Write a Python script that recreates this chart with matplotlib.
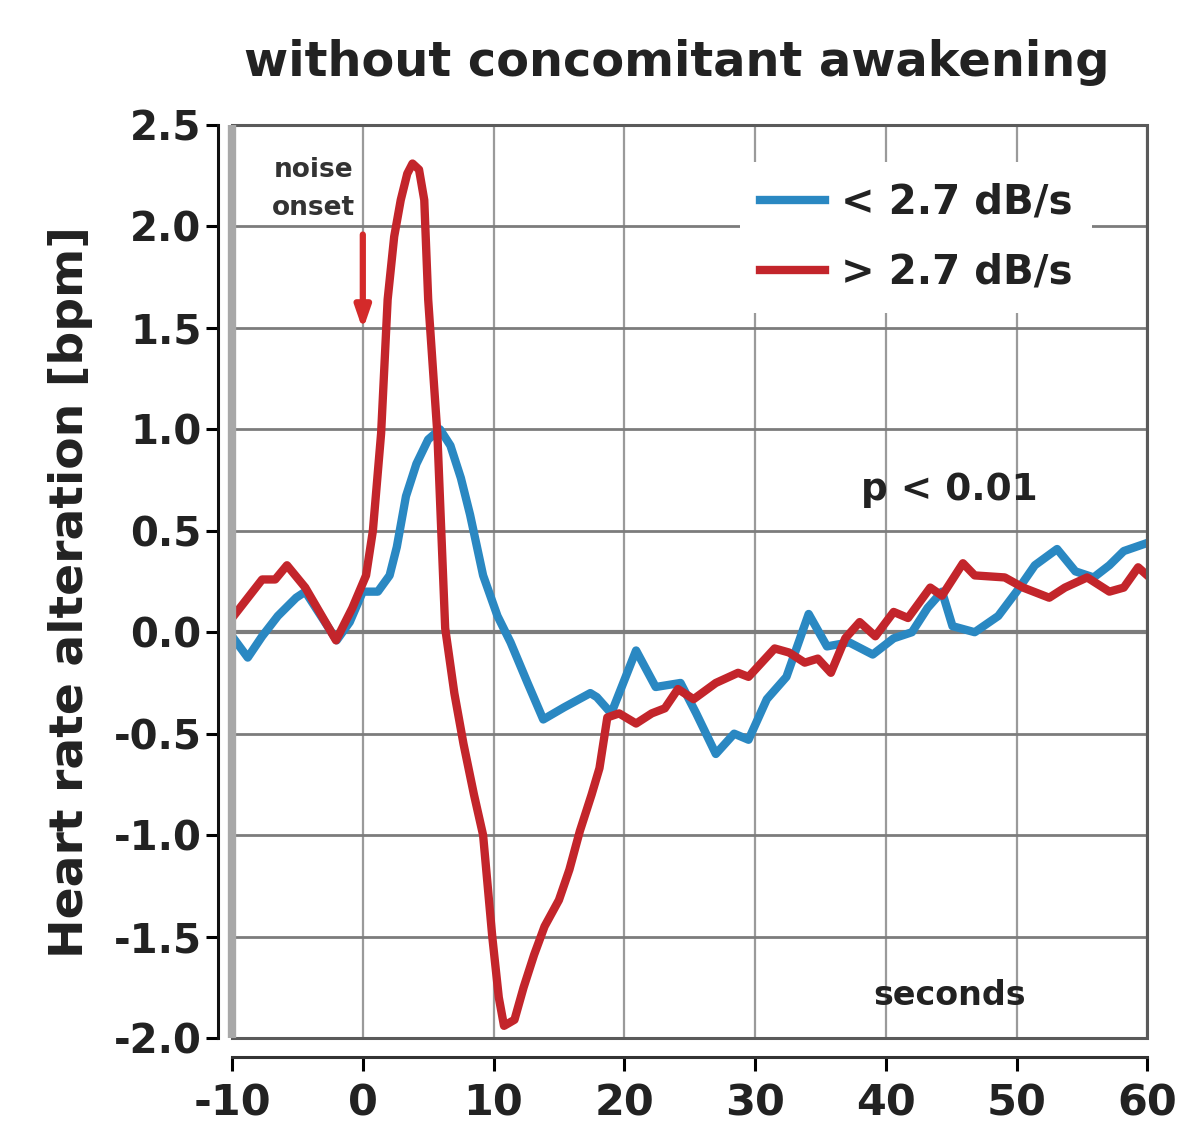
import numpy as np
import matplotlib.pyplot as plt
from matplotlib.patches import Rectangle

# heart rate response curves (seconds relative to noise onset, bpm)
slow_t = [-10, -8.8, -7.7, -6.5, -5.1, -4.4, -3.2, -2.0, -1.0, 0.0, 0.5, 1.15, 2.05, 2.6,
          3.3, 4.1, 5.0, 5.9, 6.7, 7.5, 8.2, 9.2, 10.3, 11.3, 12.6, 13.8, 15.4, 17.4, 17.9,
          19.0, 20.9, 22.4, 24.3, 25.5, 27.0, 28.4, 29.5, 30.9, 32.4, 34.1, 35.5, 37.2,
          39.0, 40.6, 42.0, 43.2, 44.3, 45.1, 46.8, 48.6, 50.0, 51.4, 53.1, 54.5, 55.9,
          57.1, 58.2, 60.0]
slow_hr = [-0.02, -0.125, -0.02, 0.08, 0.17, 0.2, 0.08, -0.04, 0.05, 0.2, 0.2, 0.2, 0.28, 0.42,
           0.67, 0.83, 0.95, 1.0, 0.92, 0.76, 0.58, 0.28, 0.08, -0.05, -0.25, -0.43, -0.37, -0.3, -0.32,
           -0.4, -0.09, -0.27, -0.25, -0.4, -0.6, -0.5, -0.53, -0.33, -0.22, 0.09, -0.07, -0.05,
           -0.11, -0.03, 0.0, 0.12, 0.2, 0.03, 0.0, 0.08, 0.2, 0.33, 0.41, 0.3, 0.27,
           0.33, 0.4, 0.44]

fast_t = [-10, -7.7, -6.7, -5.8, -4.4, -2.05, -0.8, 0.25, 0.77, 1.4, 1.9, 2.4, 2.9, 3.4,
          3.8, 4.3, 4.7, 5.0, 5.7, 6.3, 7.0, 7.7, 8.5, 9.2, 9.9, 10.4, 10.8, 11.6, 12.3,
          13.1, 13.9, 15.0, 15.8, 16.6, 17.5, 18.1, 18.7, 19.6, 20.9, 22.1, 23.1, 24.1,
          25.3, 27.0, 28.7, 29.5, 31.5, 32.6, 33.8, 34.8, 35.8, 36.9, 38.0, 39.2, 40.6,
          41.7, 43.4, 44.3, 45.9, 46.8, 49.1, 50.5, 52.5, 53.7, 55.4, 57.1, 58.2, 59.3, 60.0]
fast_hr = [0.07, 0.26, 0.26, 0.33, 0.22, -0.04, 0.12, 0.28, 0.5, 0.98, 1.64, 1.95, 2.13, 2.26,
           2.31, 2.28, 2.13, 1.64, 0.98, 0.02, -0.3, -0.55, -0.8, -1.0, -1.5, -1.8, -1.94, -1.91, -1.75,
           -1.59, -1.45, -1.32, -1.17, -0.98, -0.8, -0.67, -0.42, -0.4, -0.45, -0.4, -0.375, -0.28,
           -0.33, -0.25, -0.2, -0.22, -0.08, -0.1, -0.15, -0.13, -0.2, -0.03, 0.05, -0.02, 0.1,
           0.07, 0.22, 0.18, 0.34, 0.28, 0.27, 0.22, 0.17, 0.22, 0.27, 0.2, 0.22, 0.32, 0.28]

labels = ['< 2.7 dB/s', '> 2.7 dB/s']
xticks = [-10, 0, 10, 20, 30, 40, 50, 60]
yticks = [2.5, 2.0, 1.5, 1.0, 0.5, 0.0, -0.5, -1.0, -1.5, -2.0]

plt.rcParams['font.family'] = ['DejaVu Sans']
plt.rcParams['font.weight'] = 'bold'
plt.rcParams['axes.unicode_minus'] = False

BLUE = '#2a88c2'
RED = '#c3252b'
TXT = '#222222'

fig = plt.figure(figsize=(11.84, 11.30), dpi=100)
ax = fig.add_axes([0.196, 0.0814, 0.773, 0.8080])
ax.set_xlim(-10, 60)
ax.set_ylim(-2.0, 2.5)

# grid
for x in xticks:
    ax.axvline(x, color='#9a9a9a', lw=1.6, zorder=1)
for y in yticks:
    ax.axhline(y, color='#7c7c7c', lw=2.0 if y != 0 else 3.0, zorder=1)

ax.plot(slow_t, slow_hr, color=BLUE, lw=6, solid_joinstyle='round', label=labels[0], zorder=3)
ax.plot(fast_t, fast_hr, color=RED, lw=6, solid_joinstyle='round', label=labels[1], zorder=4)

# plot box: light left edge, darker top/right/bottom
ax.add_patch(Rectangle((0, 0), 1, 1, transform=ax.transAxes, fill=False,
                       ec='#5a5a5a', lw=2.2, clip_on=False, zorder=5))
ax.plot([0, 0], [0, 1], transform=ax.transAxes, color='#a8a8a8', lw=6,
        clip_on=False, zorder=6, solid_capstyle='butt')

for s in ['top', 'right']:
    ax.spines[s].set_visible(False)
ax.spines['left'].set_position(('outward', 10))
ax.spines['bottom'].set_position(('outward', 14))
ax.spines['left'].set_linewidth(2.2)
ax.spines['bottom'].set_linewidth(2.2)
ax.spines['left'].set_color('#111111')
ax.spines['bottom'].set_color('#333333')

ax.set_xticks(xticks)
ax.set_xticklabels([str(v) for v in xticks])
ax.set_yticks(yticks)
ax.set_yticklabels([f'{v:.1f}' for v in yticks])
ax.tick_params(axis='y', direction='out', length=9, width=2.2, pad=3,
               labelsize=29, labelcolor=TXT)
ax.tick_params(axis='x', direction='out', length=10, width=2.2, pad=8,
               labelsize=31, labelcolor=TXT)

ax.set_ylabel('Heart rate alteration [bpm]', fontsize=34, color=TXT, fontweight='bold')
ax.yaxis.set_label_coords(-0.152, 0.488)
fig.text(0.572, 0.945, 'without concomitant awakening', ha='center', va='center',
         fontsize=34.5, color=TXT)

leg = ax.legend(loc='upper right', bbox_to_anchor=(0.962, 0.981), fontsize=29,
                handlelength=1.6, handletextpad=0.4, labelspacing=0.75,
                frameon=True, framealpha=1, facecolor='white', edgecolor='none',
                borderpad=0.5)
leg.set_zorder(7)
for t in leg.get_texts():
    t.set_color(TXT)

ax.text(-3.8, 2.185, 'noise\nonset', ha='center', va='center', fontsize=19,
        color='#333333', linespacing=1.6, zorder=7)
ax.annotate('', xy=(0, 1.49), xytext=(0, 1.96),
            arrowprops=dict(arrowstyle='-|>,head_length=1.3,head_width=0.45',
                            color='#d42a2a', lw=4.5, shrinkA=0, shrinkB=0), zorder=7)

ax.text(44.9, 0.70, 'p < 0.01', ha='center', va='center', fontsize=27, color=TXT, zorder=7)
ax.text(44.9, -1.79, 'seconds', ha='center', va='center', fontsize=24, color=TXT, zorder=7)

fig.savefig('out.png', dpi=100)
